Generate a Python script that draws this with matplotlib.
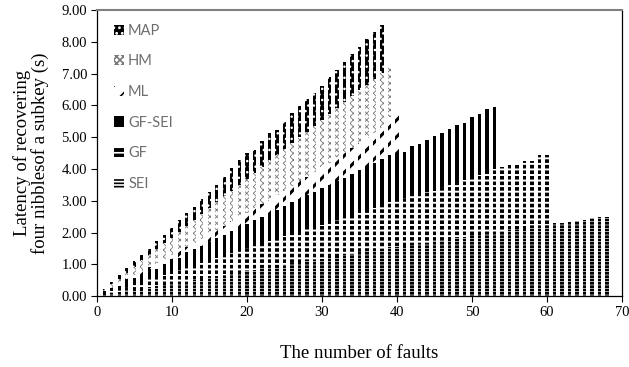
import matplotlib
matplotlib.use('Agg')
import matplotlib.pyplot as plt
import numpy as np

# latency (s) per number of faults, one list per attack method
map_vals = [0.23, 0.44, 0.65, 0.88, 1.09, 1.28, 1.49, 1.73, 1.91, 2.15,
            2.38, 2.61, 2.81, 3.07, 3.27, 3.49, 3.75, 4.03, 4.27, 4.49,
            4.61, 4.87, 5.12, 5.24, 5.49, 5.75, 5.99, 6.19, 6.38, 6.61,
            6.90, 7.11, 7.36, 7.62, 7.83, 8.08, 8.29, 8.53]
hm_vals = [0.19, 0.37, 0.55, 0.74, 0.92, 1.10, 1.29, 1.47, 1.66, 1.84,
           2.03, 2.21, 2.40, 2.58, 2.77, 2.95, 3.14, 3.32, 3.51, 3.69,
           3.88, 4.06, 4.25, 4.43, 4.62, 4.80, 4.99, 5.17, 5.36, 5.54,
           5.73, 5.91, 6.10, 6.28, 6.47, 6.65, 6.84, 7.02, 7.22]
ml_vals = [0.13, 0.26, 0.39, 0.52, 0.65, 0.78, 0.91, 1.04, 1.17, 1.30,
           1.43, 1.56, 1.66, 1.80, 1.94, 2.08, 2.21, 2.35, 2.48, 2.63,
           2.76, 2.90, 3.03, 3.17, 3.31, 3.46, 3.61, 3.75, 3.90, 4.05,
           4.20, 4.36, 4.51, 4.66, 4.82, 4.97, 5.13, 5.30, 5.62, 5.94]
gfsei_vals = [0.17, 0.22, 0.33, 0.54, 0.56, 0.62, 0.86, 0.86, 1.02, 1.17,
              1.20, 1.38, 1.48, 1.58, 1.70, 1.82, 1.93, 2.05, 2.15, 2.28,
              2.38, 2.50, 2.60, 2.72, 2.83, 2.95, 3.05, 3.17, 3.28, 3.40,
              3.50, 3.62, 3.73, 3.85, 3.96, 4.08, 4.20, 4.32, 4.43, 4.50,
              4.54, 4.73, 4.78, 4.91, 5.04, 5.12, 5.26, 5.37, 5.46, 5.62,
              5.72, 5.88, 5.96]
gf_vals = [0.08, 0.15, 0.23, 0.30, 0.38, 0.45, 0.53, 0.60, 0.68, 0.75,
           0.83, 0.90, 0.98, 1.05, 1.13, 1.20, 1.28, 1.35, 1.43, 1.50,
           1.58, 1.65, 1.73, 1.80, 1.88, 1.95, 2.03, 2.10, 2.18, 2.25,
           2.33, 2.40, 2.48, 2.55, 2.63, 2.70, 2.78, 2.85, 2.96, 3.00,
           3.08, 3.15, 3.23, 3.28, 3.31, 3.42, 3.50, 3.58, 3.66, 3.77,
           3.82, 3.90, 4.01, 4.06, 4.12, 4.12, 4.25, 4.25, 4.43, 4.43]
sei_vals = [0.04, 0.08, 0.12, 0.16, 0.20, 0.24, 0.28, 0.31, 0.35, 0.39,
            0.43, 0.47, 0.51, 0.55, 0.59, 0.63, 0.67, 0.71, 0.75, 0.79,
            0.83, 0.87, 0.91, 0.95, 0.99, 1.03, 1.07, 1.10, 1.14, 1.18,
            1.22, 1.26, 1.30, 1.34, 1.38, 1.42, 1.46, 1.50, 1.54, 1.56,
            1.58, 1.62, 1.65, 1.68, 1.72, 1.75, 1.80, 1.84, 1.87, 1.91,
            1.93, 1.96, 2.00, 2.04, 2.09, 2.07, 2.12, 2.25, 2.25, 2.25,
            2.30, 2.30, 2.33, 2.37, 2.41, 2.47, 2.50, 2.50]

# name, values, bar style, hatch line width
series = [
    ('MAP', map_vals, dict(color='black', edgecolor='white', hatch='...'), 1.0),
    ('HM', hm_vals, dict(color='white', edgecolor='#7a7a7a', hatch='xxxxx'), 0.6),
    ('ML', ml_vals, dict(color='white', edgecolor='black', hatch='//'), 2.2),
    ('GF-SEI', gfsei_vals, dict(color='black', edgecolor='black', hatch=None), 1.0),
    ('GF', gf_vals, dict(color='black', edgecolor='white', hatch='---'), 1.4),
    ('SEI', sei_vals, dict(color='black', edgecolor='white', hatch='-----'), 0.45),
]

plt.rcParams['hatch.linewidth'] = 1.2

fig = plt.figure(figsize=(6.29, 3.67), dpi=100)
ax = fig.add_axes([0.154, 0.193, 0.835, 0.78])

handles = []
for i, (name, vals, style, hlw) in enumerate(series):
    x = np.arange(1, len(vals) + 1)
    b = ax.bar(x, vals, width=0.42, linewidth=0, zorder=2 + i, label=name, **style)
    for p in b.patches:
        if hasattr(p, 'set_hatch_linewidth'):
            p.set_hatch_linewidth(hlw)
    handles.append(b)

ax.set_xlim(0, 70)
ax.set_ylim(0, 9)
ax.set_xticks(range(0, 71, 10))
ax.set_yticks(np.arange(0, 9.01, 1))
ax.set_yticklabels(['%.2f' % v for v in np.arange(0, 9.01, 1)])

serif = 'Liberation Serif'
for lab in ax.get_xticklabels() + ax.get_yticklabels():
    lab.set_family(serif)
    lab.set_fontsize(10.5)
ax.tick_params(axis='both', direction='out', length=4, width=0.8, pad=3)

ax.spines['top'].set_color('#808080')
ax.spines['top'].set_linewidth(1.5)
for s in ['left', 'bottom', 'right']:
    ax.spines[s].set_linewidth(0.9)

ax.set_xlabel('The number of faults', family=serif, fontsize=13.5, labelpad=19)
ax.set_ylabel('Latency of recovering\nfour nibblesof a subkey (s)', family=serif,
              fontsize=13.5, labelpad=9, linespacing=1.0)

leg = ax.legend(handles=handles, loc='upper left', frameon=False,
                handlelength=0.7, handleheight=0.7, handletextpad=0.25,
                labelspacing=1.14, borderaxespad=0.0,
                bbox_to_anchor=(0.022, 0.972),
                prop={'family': 'Lato', 'size': 10.5})
for t in leg.get_texts():
    t.set_color('#6e6e6e')

fig.savefig('out.png', dpi=100)
